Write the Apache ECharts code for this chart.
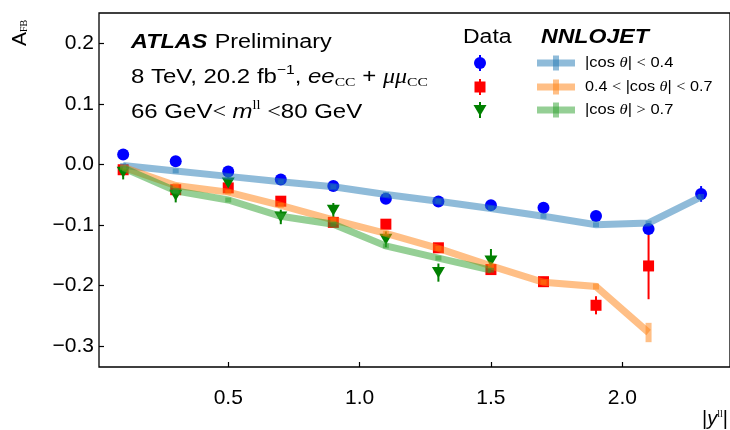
<!DOCTYPE html>
<html><head><meta charset="utf-8">
<script src="https://cdn.jsdelivr.net/npm/echarts@6/dist/echarts.min.js"></script>
<style>html,body{margin:0;padding:0;background:#fff}#c{width:730px;height:430px}</style>
</head><body><div id="c"></div>
<script>
// ---- data ----
const xBins = [0.1, 0.3, 0.5, 0.7, 0.9, 1.1, 1.3, 1.5, 1.7, 1.9, 2.1, 2.3];
// Data (measurement)
const dataLow  = [0.016, 0.005, -0.012, -0.025, -0.036, -0.057, -0.0615, -0.0675, -0.072, -0.0855, -0.107, -0.049];
const errLow   = [0.004, 0.004, 0.005, 0.005, 0.005, 0.005, 0.005, 0.005, 0.006, 0.007, 0.008, 0.013];
const dataMid  = [-0.009, -0.042, -0.039, -0.061, -0.096, -0.099, -0.138, -0.174, -0.194, -0.233, -0.168];
const errMid   = [0.005, 0.006, 0.006, 0.006, 0.006, 0.006, 0.007, 0.008, 0.008, 0.015, 0.055];
const dataHigh = [-0.013, -0.051, -0.031, -0.087, -0.076, -0.124, -0.179, -0.160];
const errHigh  = [0.012, 0.012, 0.012, 0.012, 0.012, 0.013, 0.015, 0.020];
// NNLOJET prediction
const nnloLow  = [-0.002, -0.011, -0.020, -0.029, -0.037, -0.050, -0.061, -0.073, -0.086, -0.100, -0.097, -0.054];
const nnloLowErr  = [0.004, 0.004, 0.004, 0.004, 0.004, 0.004, 0.004, 0.004, 0.004, 0.004, 0.004, 0.005];
const nnloMid  = [-0.005, -0.035, -0.046, -0.068, -0.092, -0.114, -0.139, -0.168, -0.195, -0.202, -0.278];
const nnloMidErr  = [0.004, 0.004, 0.004, 0.004, 0.004, 0.004, 0.004, 0.004, 0.004, 0.005, 0.016];
const nnloHigh = [-0.006, -0.044, -0.059, -0.086, -0.099, -0.135, -0.155, -0.175];
const nnloHighErr = [0.004, 0.004, 0.004, 0.004, 0.004, 0.004, 0.004, 0.004];
// ticks
const xTicks = [0.5, 1.0, 1.5, 2.0];
const yTicks = [-0.3, -0.2, -0.1, 0.0, 0.1, 0.2];

// ---- helpers ----
const FONT = "'Liberation Sans', Arial, Helvetica, sans-serif";
const SERIF = "'Liberation Serif', 'DejaVu Serif', serif";
const zip = (xs, ys) => ys.map((v, i) => [xs[i], v]);
const zip3 = (xs, ys, es) => ys.map((v, i) => [xs[i], v, es[i]]);

function errSeries(name, xs, ys, es, color, width, z) {
  return {
    type: 'custom', name, z, silent: true,
    data: zip3(xs, ys, es),
    encode: { x: 0, y: 1 },
    renderItem: function (params, api) {
      const x = api.value(0), y = api.value(1), e = api.value(2);
      const p1 = api.coord([x, y + e]);
      const p2 = api.coord([x, y - e]);
      return { type: 'line', shape: { x1: p1[0], y1: p1[1], x2: p2[0], y2: p2[1] },
               style: { stroke: color, lineWidth: width, lineCap: 'butt' } };
    }
  };
}

const cBlue = 'rgba(31,119,180,0.5)';
const cOrange = 'rgba(255,127,14,0.5)';
const cGreen = 'rgba(44,160,44,0.5)';

function modelLine(name, ys, color) {
  return { type: 'line', name, data: zip(xBins, ys), symbol: 'none', z: 5, silent: true,
           lineStyle: { color, width: 7, cap: 'butt', join: 'miter' } };
}
function dataScatter(name, ys, color, symbol, size, rotate) {
  return { type: 'scatter', name, data: zip(xBins, ys), symbol, symbolSize: size,
           symbolRotate: rotate || 0, z: 3, silent: true,
           itemStyle: { color, opacity: 1 } };
}

const base = 20;
const richMain = {
  b: { fontSize: base, fontFamily: FONT, fontWeight: 'bold', fontStyle: 'italic', padding: [0, 3, 0, 0] },
  r: { fontSize: base, fontFamily: FONT },
  it: { fontSize: base, fontFamily: FONT, fontStyle: 'italic' },
  mu: { fontSize: base, fontFamily: SERIF, fontStyle: 'italic' },
  m: { fontSize: base, fontFamily: SERIF },
  sup: { fontSize: 13, fontFamily: FONT, padding: [0, 0, 14, 0] },
  sub: { fontSize: 13, fontFamily: SERIF, padding: [11, 0, 0, 0] },
  sups: { fontSize: 12, fontFamily: SERIF, padding: [0, 0, 13, 0] }
};
const richLeg = {
  r: { fontSize: 15, fontFamily: FONT },
  th: { fontSize: 15, fontFamily: SERIF, fontStyle: 'italic' },
  m: { fontSize: 15, fontFamily: SERIF }
};

function gText(x, y, text, rich, sx, extra) {
  return Object.assign({ type: 'text', x, y, scaleX: sx || 1, z: 100,
    style: { text, rich, fill: '#000', textAlign: 'left', textVerticalAlign: 'middle' } }, extra || {});
}

const legendRows = [63, 87, 110];
const legendGraphics = [];
legendGraphics.push({ type: 'circle', shape: { cx: 480, cy: legendRows[0], r: 6 }, style: { fill: '#0000ff' }, z: 100 });
legendGraphics.push({ type: 'line', shape: { x1: 480, y1: legendRows[0] - 8, x2: 480, y2: legendRows[0] + 8 }, style: { stroke: '#0000ff', lineWidth: 2 }, z: 100 });
legendGraphics.push({ type: 'rect', shape: { x: 474.5, y: legendRows[1] - 5.5, width: 11, height: 11 }, style: { fill: '#ff0000' }, z: 100 });
legendGraphics.push({ type: 'line', shape: { x1: 480, y1: legendRows[1] - 8, x2: 480, y2: legendRows[1] + 8 }, style: { stroke: '#ff0000', lineWidth: 2 }, z: 100 });
legendGraphics.push({ type: 'polygon', shape: { points: [[473.5, legendRows[2] - 5], [486.5, legendRows[2] - 5], [480, legendRows[2] + 6]] }, style: { fill: '#008000' }, z: 100 });
legendGraphics.push({ type: 'line', shape: { x1: 480, y1: legendRows[2] - 8, x2: 480, y2: legendRows[2] + 8 }, style: { stroke: '#008000', lineWidth: 2 }, z: 100 });
[cBlue, cOrange, cGreen].forEach((c, i) => {
  const y = legendRows[i];
  legendGraphics.push({ type: 'line', shape: { x1: 537, y1: y, x2: 575, y2: y }, style: { stroke: c, lineWidth: 7 }, z: 100 });
  legendGraphics.push({ type: 'line', shape: { x1: 556, y1: y - 7.5, x2: 556, y2: y + 7.5 }, style: { stroke: c, lineWidth: 6 }, z: 100 });
});

const chart = echarts.init(document.getElementById('c'), null, { renderer: 'canvas' });
chart.setOption({
  animation: false,
  backgroundColor: '#fff',
  grid: { left: 99, top: 13, width: 634, height: 354, show: true, borderColor: '#000', borderWidth: 1.3, backgroundColor: 'transparent' },
  xAxis: {
    type: 'value', min: 0.008, max: 2.41, position: 'bottom',
    axisLine: { show: false, onZero: false },
    axisTick: { show: true, inside: true, length: 5, lineStyle: { color: '#000', width: 1.2 }, customValues: xTicks },
    axisLabel: { show: true, customValues: xTicks, margin: 21, fontSize: 21, fontFamily: FONT, color: '#000',
                 formatter: v => v.toFixed(1) },
    splitLine: { show: false }
  },
  yAxis: {
    type: 'value', min: -0.335, max: 0.25, position: 'left',
    axisLine: { show: false, onZero: false },
    axisTick: { show: true, inside: true, length: 5, lineStyle: { color: '#000', width: 1.2 }, customValues: yTicks },
    axisLabel: { show: true, customValues: yTicks, margin: 5, fontSize: 21, fontFamily: FONT, color: '#000',
                 formatter: v => (v < -1e-9 ? '\u2212' + Math.abs(v).toFixed(1) : Math.abs(v).toFixed(1)) },
    splitLine: { show: false }
  },
  series: [
    dataScatter('Data |cos θ|<0.4', dataLow, '#0000ff', 'circle', 12),
    errSeries('err low', xBins, dataLow, errLow, '#0000ff', 2, 3),
    dataScatter('Data 0.4<|cos θ|<0.7', dataMid, '#ff0000', 'rect', 11),
    errSeries('err mid', xBins, dataMid, errMid, '#ff0000', 2, 3),
    dataScatter('Data |cos θ|>0.7', dataHigh, '#008000', 'triangle', [13, 11], 180),
    errSeries('err high', xBins, dataHigh, errHigh, '#008000', 2, 3),
    modelLine('NNLOJET low', nnloLow, cBlue),
    errSeries('nnlo low err', xBins, nnloLow, nnloLowErr, cBlue, 6, 6),
    modelLine('NNLOJET mid', nnloMid, cOrange),
    errSeries('nnlo mid err', xBins, nnloMid, nnloMidErr, cOrange, 6, 6),
    modelLine('NNLOJET high', nnloHigh, cGreen),
    errSeries('nnlo high err', xBins, nnloHigh, nnloHighErr, cGreen, 6, 6)
  ],
  graphic: [
    gText(131, 42, '{b|ATLAS} {r|Preliminary}', richMain, 1.17),
    gText(131, 77.5, '{r|8 TeV, 20.2 fb}{sup|\u22121}{r|, }{it|ee}{sub|CC}{r| + }{mu|\u03bc\u03bc}{sub|CC}', richMain, 1.2),
    gText(131, 112.5, '{r|66 GeV}{m|<}{r| }{it|m}{sups|ll}{r| }{m|<}{r|80 GeV}', richMain, 1.2),
    gText(463, 37, '{r|Data}', { r: { fontSize: 20, fontFamily: FONT } }, 1.15),
    gText(541, 37, '{b|NNLOJET}', { b: { fontSize: 21, fontFamily: FONT, fontWeight: 'bold', fontStyle: 'italic' } }, 1.1),
    gText(585, legendRows[0], '{r||cos }{th|\u03b8}{r|| }{m|<}{r| 0.4}', richLeg, 1.1),
    gText(585, legendRows[1], '{r|0.4 }{m|<}{r| |cos }{th|\u03b8}{r|| }{m|<}{r| 0.7}', richLeg, 1.08),
    gText(585, legendRows[2], '{r||cos }{th|\u03b8}{r|| }{m|>}{r| 0.7}', richLeg, 1.1),
    { type: 'text', x: 20, y: 33, rotation: Math.PI / 2, z: 100,
      style: { text: '{a|A}{s|FB}', fill: '#000', textAlign: 'center', textVerticalAlign: 'middle',
               rich: { a: { fontSize: 21, fontFamily: FONT }, s: { fontSize: 10, fontFamily: SERIF, padding: [8, 0, 0, 0] } } } },
    { type: 'text', x: 728, y: 419, z: 100,
      style: { text: '{r||}{y|y}{s|ll}{r||}', fill: '#000', textAlign: 'right', textVerticalAlign: 'middle',
               rich: { r: { fontSize: 20, fontFamily: FONT }, y: { fontSize: 20, fontFamily: FONT, fontStyle: 'italic' },
                       s: { fontSize: 10, fontFamily: SERIF, padding: [0, 0, 10, 0] } } } }
  ].concat(legendGraphics)
});
</script>
</body></html>
